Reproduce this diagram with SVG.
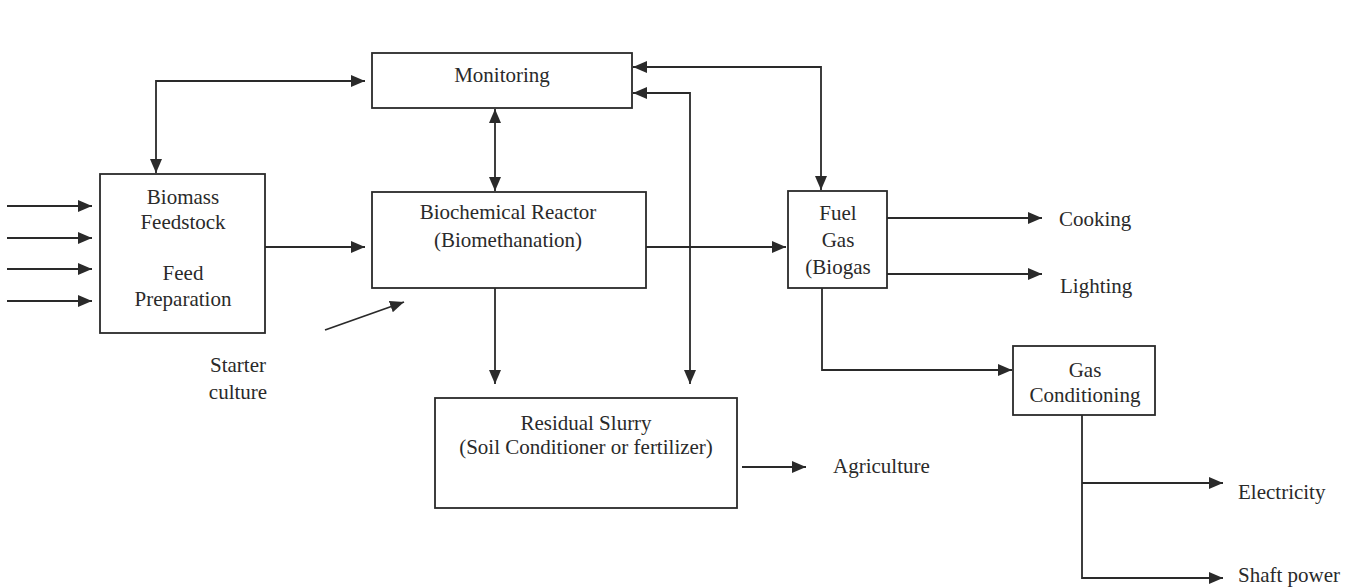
<svg xmlns="http://www.w3.org/2000/svg" width="1370" height="588" viewBox="0 0 1370 588">
<style>
.box{fill:#fff;stroke:#2a2a2a;stroke-width:1.8}
.ln{fill:none;stroke:#2a2a2a;stroke-width:1.8}
.a{marker-end:url(#ah)}
.b{marker-start:url(#ah);marker-end:url(#ah)}
text{font-family:"Liberation Serif","Times New Roman",serif;font-size:21px;fill:#2a2a2a}
.c{text-anchor:middle}
</style>
<defs>
<marker id="ah" markerUnits="userSpaceOnUse" markerWidth="15" markerHeight="13" refX="14" refY="6" orient="auto-start-reverse">
<path d="M0,0 L14,6 L0,12 z" fill="#2a2a2a"/>
</marker>
</defs>
<rect width="1370" height="588" fill="#fff"/>
<g id="connectors">
<path class="ln a" d="M7,206 H92"/>
<path class="ln a" d="M7,238 H92"/>
<path class="ln a" d="M7,269 H92"/>
<path class="ln a" d="M7,301 H92"/>
<path class="ln b" d="M365,81 H156 V173"/>
<path class="ln a" d="M265,247 H365"/>
<path class="ln a" d="M325,330 L404,302"/>
<path class="ln b" d="M495,109 V191"/>
<path class="ln a" d="M495,288 V384"/>
<path class="ln b" d="M633,67 H821 V190"/>
<path class="ln b" d="M633,93 H690 V384"/>
<path class="ln a" d="M639,247 H786"/>
<path class="ln a" d="M887,218 H1042"/>
<path class="ln a" d="M887,274 H1042"/>
<path class="ln a" d="M822,288 V370 H1012"/>
<path class="ln a" d="M1082,415 V578 H1223"/>
<path class="ln a" d="M1082,483 H1223"/>
<path class="ln a" d="M742,467 H806"/>
</g>
<g id="biomass">
<rect class="box" x="100" y="174" width="165" height="159"/>
<text class="c" x="183" y="204">Biomass</text>
<text class="c" x="183" y="229">Feedstock</text>
<text class="c" x="183" y="280">Feed</text>
<text class="c" x="183" y="306">Preparation</text>
</g>
<g id="starter">
<text class="c" x="238" y="372">Starter</text>
<text class="c" x="238" y="399">culture</text>
</g>
<g id="monitoring">
<rect class="box" x="372" y="53" width="260" height="55"/>
<text class="c" x="502" y="82">Monitoring</text>
</g>
<g id="reactor">
<rect class="box" x="372" y="192" width="274" height="96"/>
<text class="c" x="508" y="219">Biochemical Reactor</text>
<text class="c" x="508" y="247">(Biomethanation)</text>
</g>
<g id="fuelgas">
<rect class="box" x="788" y="191" width="99" height="97"/>
<text class="c" x="838" y="220">Fuel</text>
<text class="c" x="838" y="247">Gas</text>
<text class="c" x="838" y="274">(Biogas</text>
</g>
<g id="slurry">
<rect class="box" x="435" y="398" width="302" height="110"/>
<text class="c" x="586" y="430">Residual Slurry</text>
<text class="c" x="586" y="454">(Soil Conditioner or fertilizer)</text>
</g>
<g id="agriculture"><text x="833" y="473">Agriculture</text></g>
<g id="cooking"><text x="1059" y="226">Cooking</text></g>
<g id="lighting"><text x="1060" y="293">Lighting</text></g>
<g id="gascond">
<rect class="box" x="1013" y="346" width="142" height="69"/>
<text class="c" x="1085" y="377">Gas</text>
<text class="c" x="1085" y="402">Conditioning</text>
</g>
<g id="electricity"><text x="1238" y="499">Electricity</text></g>
<g id="shaft"><text x="1238" y="582">Shaft power</text></g>
</svg>
